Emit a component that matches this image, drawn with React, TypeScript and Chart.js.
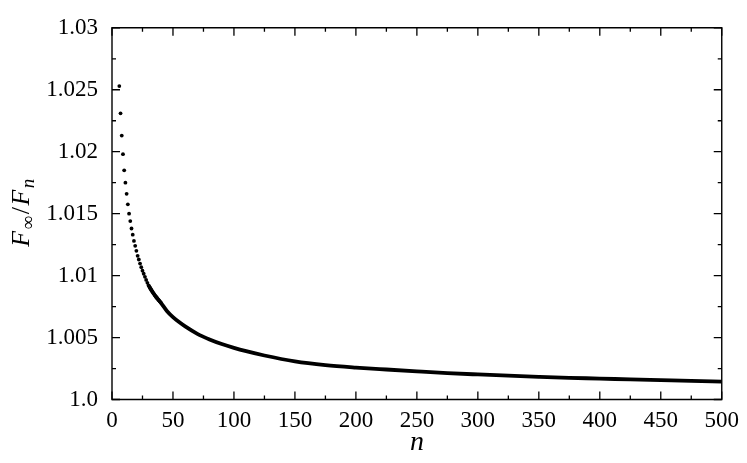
import React, { useEffect, useRef } from "react";
import { Chart, registerables } from "chart.js";

Chart.register(...registerables);

// Individually visible points (small n)
const nDots = [6, 7, 8, 9, 10, 11, 12, 13, 14, 15, 16, 17, 18, 19, 20, 21, 22, 23, 24, 25, 26, 27, 28, 29, 30, 31, 32, 33, 34, 35, 36, 37, 38, 39, 40];
const dotValues = [
  1.0253, 1.0231, 1.0213, 1.0198, 1.0185, 1.0175, 1.0166, 1.01575, 1.0150, 1.0144,
  1.0138, 1.0133, 1.0128, 1.0124, 1.0120, 1.0116, 1.0113, 1.01097, 1.01068, 1.0104,
  1.01015, 1.0099, 1.00965, 1.00942, 1.0092, 1.00902, 1.00886, 1.00871, 1.00857, 1.00843,
  1.0083, 1.00817, 1.00805, 1.00793, 1.00782,
];

// Dense part of the curve (points merge into a thick line)
const nCurve = [30, 35, 40, 45, 50, 55, 60, 70, 80, 90, 100, 110, 125, 150, 175, 200, 225, 250, 275, 300, 325, 350, 375, 400, 425, 450, 475, 500];
const curveValues = [
  1.0092, 1.00843, 1.00782, 1.00715, 1.00665, 1.00625, 1.0059, 1.0053, 1.00485, 1.00448,
  1.00417, 1.0039, 1.00355, 1.00308, 1.00278, 1.00258, 1.00242, 1.00227, 1.00213, 1.00202,
  1.00192, 1.00183, 1.00175, 1.00169, 1.00162, 1.00156, 1.0015, 1.00145,
];

const xMin = 0;
const xMax = 500;
const xMajorStep = 50;
const xMinorStep = 25;
const yMin = 1.0;
const yMax = 1.03;
const yMajorStep = 0.005;
const yMinorStep = 0.0025;

const FONT = "'Liberation Serif', 'Times New Roman', serif";

function fmtY(v: number): string {
  let s = v.toFixed(3);
  s = s.replace(/0+$/, "");
  if (s.endsWith(".")) s += "0";
  return s;
}

const framePlugin = {
  id: "frameTicks",
  afterDraw(chart: any) {
    const { ctx, chartArea } = chart;
    const { left, right, top, bottom } = chartArea;
    const xs = chart.scales.x;
    const ys = chart.scales.y;
    ctx.save();
    ctx.strokeStyle = "#000";
    ctx.lineWidth = 1.4;
    ctx.beginPath();
    ctx.rect(left, top, right - left, bottom - top);
    ctx.stroke();
    ctx.lineWidth = 1.3;
    ctx.beginPath();
    const nx = Math.round((xMax - xMin) / xMinorStep);
    for (let i = 0; i <= nx; i++) {
      const v = xMin + i * xMinorStep;
      const major = i % 2 === 0;
      const len = major ? 8 : 4;
      const px = xs.getPixelForValue(v);
      ctx.moveTo(px, bottom);
      ctx.lineTo(px, bottom - len);
      ctx.moveTo(px, top);
      ctx.lineTo(px, top + len);
    }
    const ny = Math.round((yMax - yMin) / yMinorStep);
    for (let i = 0; i <= ny; i++) {
      const v = yMin + i * yMinorStep;
      const major = i % 2 === 0;
      const len = major ? 8 : 4;
      const py = ys.getPixelForValue(v);
      ctx.moveTo(left, py);
      ctx.lineTo(left + len, py);
      ctx.moveTo(right, py);
      ctx.lineTo(right - len, py);
    }
    ctx.stroke();

    // y-axis title: F_inf / F_n
    const segs = [
      { t: "F", font: `italic 26px ${FONT}`, dy: 0 },
      { t: "\u221E", font: `19px ${FONT}`, dy: 5 },
      { t: "/", font: `26px ${FONT}`, dy: 0 },
      { t: "F", font: `italic 26px ${FONT}`, dy: 0 },
      { t: "n", font: `italic 19px ${FONT}`, dy: 5 },
    ];
    let total = 0;
    const widths: number[] = [];
    for (const s of segs) {
      ctx.font = s.font;
      const w = ctx.measureText(s.t).width;
      widths.push(w);
      total += w + 1.5;
    }
    ctx.translate(29, 212);
    ctx.rotate(-Math.PI / 2);
    ctx.fillStyle = "#000";
    ctx.textBaseline = "alphabetic";
    ctx.textAlign = "left";
    let x = -total / 2;
    segs.forEach((s, i) => {
      ctx.font = s.font;
      ctx.fillText(s.t, x, s.dy);
      x += widths[i] + 1.5;
    });
    ctx.restore();
  },
};

export default function App() {
  const ref = useRef<HTMLCanvasElement | null>(null);
  useEffect(() => {
    if (!ref.current) return;
    const chart = new Chart(ref.current, {
      type: "scatter",
      data: {
        datasets: [
          {
            data: nDots.map((n, i) => ({ x: n, y: dotValues[i] })),
            pointRadius: 1.9,
            pointBackgroundColor: "#000",
            pointBorderWidth: 0,
            showLine: false,
          },
          {
            data: nCurve.map((n, i) => ({ x: n, y: curveValues[i] })),
            showLine: true,
            pointRadius: 0,
            borderColor: "#000",
            borderWidth: 3.8,
            cubicInterpolationMode: "monotone",
          } as any,
        ],
      },
      options: {
        animation: false,
        responsive: false,
        devicePixelRatio: 1,
        layout: { padding: { top: 24, right: 22.5, left: 0, bottom: 0 } },
        plugins: { legend: { display: false }, tooltip: { enabled: false } },
        scales: {
          x: {
            type: "linear",
            min: xMin,
            max: xMax,
            border: { display: false },
            grid: { display: false, drawTicks: false },
            ticks: {
              stepSize: xMajorStep,
              padding: 8,
              color: "#000",
              font: { family: FONT, size: 23 },
              maxRotation: 0,
            },
            title: {
              display: true,
              text: "n",
              color: "#000",
              padding: { top: 0, bottom: 4 },
              font: { family: FONT, size: 28, style: "italic" },
            },
            afterFit(scale: any) {
              scale.height = 63.5;
            },
          },
          y: {
            type: "linear",
            min: yMin,
            max: yMax,
            border: { display: false },
            grid: { display: false, drawTicks: false },
            ticks: {
              stepSize: yMajorStep,
              padding: 14,
              color: "#000",
              font: { family: FONT, size: 23 },
              callback: (v: any) => fmtY(Number(v)),
            },
            afterFit(scale: any) {
              scale.width = 112;
            },
          },
        },
      },
      plugins: [framePlugin],
    });
    return () => chart.destroy();
  }, []);
  return (
    <canvas
      ref={ref}
      width={747}
      height={463}
      style={{ position: "absolute", left: 0, top: 0, display: "block", background: "#fff" }}
    />
  );
}
